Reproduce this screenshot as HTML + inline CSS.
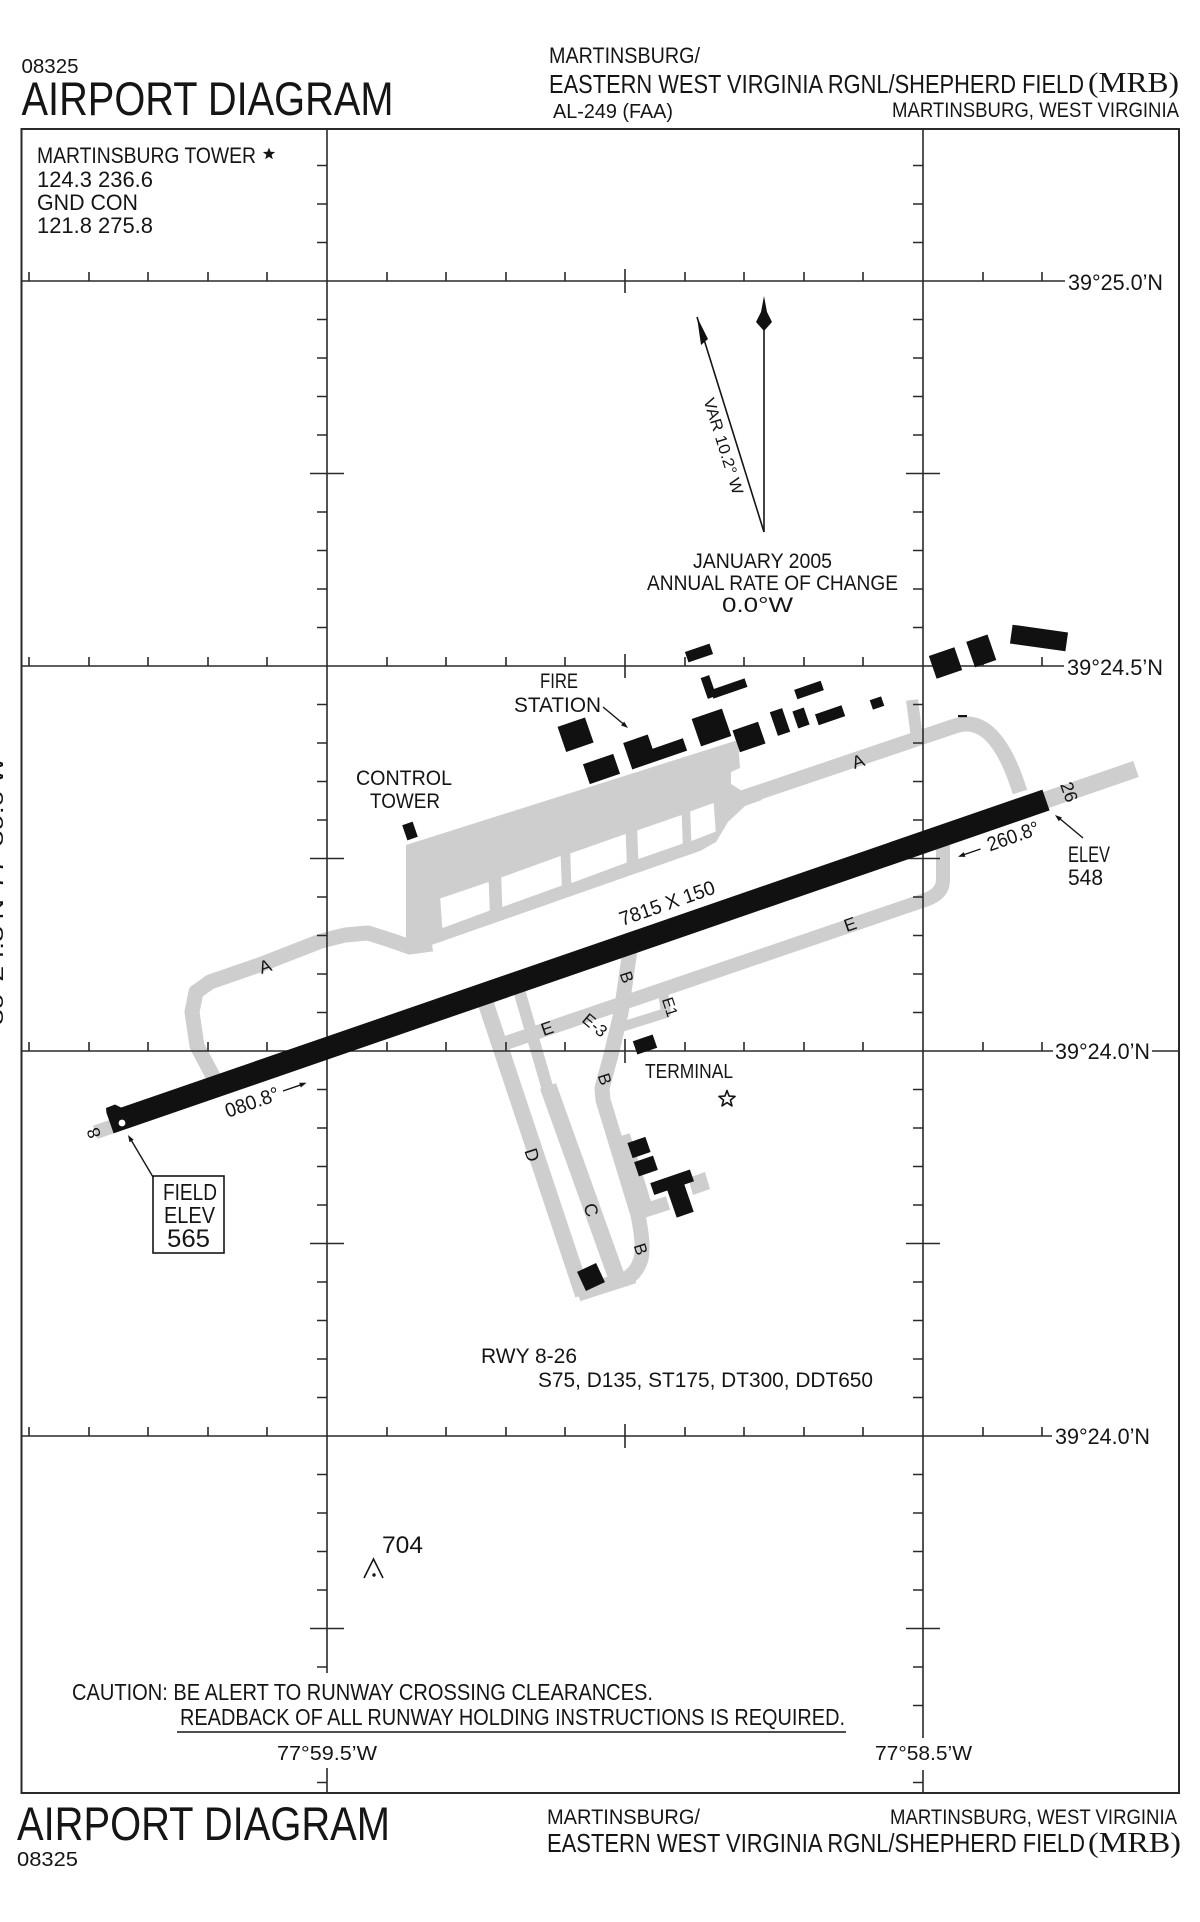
<!DOCTYPE html>
<html>
<head>
<meta charset="utf-8">
<style>
html,body{margin:0;padding:0;background:#fff;}
svg{display:block;}
</style>
</head>
<body>
<svg xmlns="http://www.w3.org/2000/svg" width="1200" height="1922" viewBox="0 0 1200 1922" font-family="'Liberation Sans', Arial, sans-serif" fill="#151515">
<rect x="0" y="0" width="1200" height="1922" fill="#ffffff"/>

<!-- ===== GRAY TAXIWAYS / APRON ===== -->
<g fill="none" stroke="#cecece" stroke-linejoin="round">
  <polyline stroke-width="15" points="215,1080 197,1046 192,1012 196,992 210,982 262,964 321,941 345,935 368,933 390,940 410,947 432,944"/>
  <path stroke-width="15" d="M742 798 L955 726 Q995 712 1020 792"/>
  <polyline stroke-width="12" points="912,700 917,738"/>
  <line x1="1046" y1="800" x2="1136" y2="769" stroke-width="17"/>
  <path stroke-width="14" d="M497 1046 L925 900 Q943 894 943 880 L943 845"/>
  <line x1="484" y1="998" x2="583" y2="1295" stroke-width="16"/>
  <line x1="519" y1="990" x2="548" y2="1090" stroke-width="12"/>
  <line x1="548" y1="1086" x2="619" y2="1284" stroke-width="17"/>
  <line x1="578" y1="1294" x2="634" y2="1276" stroke-width="15"/>
  <path stroke-width="15" d="M630 950 L621 1013 L611 1055 L602 1088 L603 1100 L638 1215 Q645 1250 640 1262 Q635 1274 628 1277"/>
  <line x1="624" y1="1135" x2="648" y2="1212" stroke-width="12"/>
  <line x1="640" y1="1212" x2="668" y2="1203" stroke-width="14"/>
  <polyline stroke-width="10" points="618,1028 666,1013 663,992"/>
</g>
<g fill="#cecece">
  <polygon points="406,845 738,740 740,768 731,772 731,784 742,791 755,790 762,800 745,806 728,822 716,842 700,851 420,949 406,953"/>
  <polygon points="93,1125.7 97.5,1139 113.6,1133.4 109,1120.2"/>
  <polygon points="688,1178 705,1172 710,1189 693,1195"/>
</g>
<g fill="#ffffff" stroke="#ffffff" stroke-width="1.5" stroke-linejoin="round">
  <polygon points="441,899 488,883 489,910 443,927"/>
  <polygon points="502,878 560,857 561,885 503,906"/>
  <polygon points="571,854 625,835 626,862 572,882"/>
  <polygon points="638,831 681,816 682,843 639,858"/>
  <polygon points="691,812 713,804 715,831 692,840"/>
</g>

<!-- ===== GRID ===== -->
<g fill="none" stroke="#2a2a2a">
  <rect x="21.5" y="129" width="1157.5" height="1664" stroke-width="2"/>
  <path stroke-width="1.6" d="M21.5 281H1065M21.5 666H1064M21.5 1051H1053M1152 1051H1179M21.5 1436H1052M327 129V1673M327 1768V1793M923 129V1738M923 1770V1793"/>
  <path stroke-width="1.6" d="M29 281v-9M89 281v-9M148 281v-9M208 281v-9M267 281v-9M387 281v-9M446 281v-9M506 281v-9M565 281v-9M685 281v-9M744 281v-9M804 281v-9M863 281v-9M983 281v-9M1042 281v-9M625 269v24
  M29 666v-9M89 666v-9M148 666v-9M208 666v-9M267 666v-9M387 666v-9M446 666v-9M506 666v-9M565 666v-9M685 666v-9M744 666v-9M804 666v-9M863 666v-9M983 666v-9M1042 666v-9M625 654v24
  M29 1051v-9M89 1051v-9M148 1051v-9M208 1051v-9M267 1051v-9M387 1051v-9M446 1051v-9M506 1051v-9M565 1051v-9M685 1051v-9M744 1051v-9M804 1051v-9M863 1051v-9M983 1051v-9M1042 1051v-9M625 1039v24
  M29 1436v-9M89 1436v-9M148 1436v-9M208 1436v-9M267 1436v-9M387 1436v-9M446 1436v-9M506 1436v-9M565 1436v-9M685 1436v-9M744 1436v-9M804 1436v-9M863 1436v-9M983 1436v-9M1042 1436v-9M625 1424v24"/>
  <path stroke-width="1.6" d="M327 165.5h-10M327 204h-10M327 242.5h-10M327 319.5h-10M327 358h-10M327 396.5h-10M327 435h-10M327 512h-10M327 550.5h-10M327 589h-10M327 627.5h-10M327 704.5h-10M327 743h-10M327 781.5h-10M327 820h-10M327 897h-10M327 935.5h-10M327 974h-10M327 1012.5h-10M327 1089.5h-10M327 1128h-10M327 1166.5h-10M327 1205h-10M327 1282h-10M327 1320.5h-10M327 1359h-10M327 1397.5h-10M327 1474.5h-10M327 1513h-10M327 1551.5h-10M327 1590h-10M327 1667h-10M327 1782.5h-10
  M310 473.5h34M310 858.5h34M310 1243.5h34M310 1628.5h34
  M923 165.5h-10M923 204h-10M923 242.5h-10M923 319.5h-10M923 358h-10M923 396.5h-10M923 435h-10M923 512h-10M923 550.5h-10M923 589h-10M923 627.5h-10M923 704.5h-10M923 743h-10M923 781.5h-10M923 820h-10M923 897h-10M923 935.5h-10M923 974h-10M923 1012.5h-10M923 1089.5h-10M923 1128h-10M923 1166.5h-10M923 1205h-10M923 1282h-10M923 1320.5h-10M923 1359h-10M923 1397.5h-10M923 1474.5h-10M923 1513h-10M923 1551.5h-10M923 1590h-10M923 1667h-10M923 1705.5h-10M923 1782.5h-10
  M906 473.5h34M906 858.5h34M906 1243.5h34M906 1628.5h34"/>
</g>

<!-- ===== RUNWAY ===== -->
<g fill="#111111">
  <polygon points="106.4,1112.6 1042.4,789.6 1049.6,810.4 113.6,1133.4"/>
  <polygon points="106.4,1112.6 106,1108 115,1104.5 128,1111"/>
</g>
<circle cx="122" cy="1123" r="3.4" fill="#ffffff"/>

<!-- ===== BUILDINGS ===== -->
<g fill="#111111">
  <rect x="686" y="647.5" width="26" height="11" transform="rotate(-19 699 653)"/>
  <rect x="704" y="676" width="9" height="22" transform="rotate(-19 708.5 687)"/>
  <rect x="711" y="684" width="36" height="9" transform="rotate(-19 729 688.5)"/>
  <rect x="795" y="685" width="28" height="10" transform="rotate(-19 809 690)"/>
  <rect x="871" y="698" width="12" height="10" transform="rotate(-19 877 703)"/>
  <rect x="561" y="721.5" width="29" height="26.5" transform="rotate(-19 575.5 734.5)"/>
  <g transform="translate(640 752) rotate(-19)"><polygon points="-13,-14 13,-14 13,1 45,1 45,14 -13,14"/></g>
  <rect x="585.5" y="758.5" width="32" height="21" transform="rotate(-19 601.5 769)"/>
  <rect x="695.5" y="713" width="32" height="29" transform="rotate(-19 711.5 727.5)"/>
  <rect x="735.5" y="725.5" width="27" height="23" transform="rotate(-19 749 737)"/>
  <rect x="773.5" y="709.5" width="13" height="25" transform="rotate(-19 780 722)"/>
  <rect x="795" y="709" width="12" height="18" transform="rotate(-19 801 718)"/>
  <rect x="816" y="709.5" width="28" height="11.5" transform="rotate(-19 830 715)"/>
  <rect x="932" y="651" width="27" height="24" transform="rotate(-19 945.5 663)"/>
  <rect x="970" y="637.5" width="22.5" height="27" transform="rotate(-19 981 651)"/>
  <rect x="1011" y="628.5" width="56" height="19" transform="rotate(8 1039 638)"/>
  <rect x="958" y="715" width="9" height="2.2"/>
  <rect x="404.5" y="823" width="11" height="16" transform="rotate(-19 410 831)"/>
  <rect x="634.5" y="1037.5" width="21" height="14" transform="rotate(-19 645 1044.5)"/>
  <rect x="629.5" y="1139.5" width="19" height="16" transform="rotate(-19 639 1147.5)"/>
  <rect x="636" y="1158.5" width="20" height="15" transform="rotate(-19 646 1166)"/>
  <rect x="651" y="1176" width="42" height="12.5" transform="rotate(-19 672 1182)"/>
  <rect x="671.5" y="1186.5" width="18" height="29" transform="rotate(-19 680.5 1201)"/>
  <rect x="580.5" y="1266.5" width="21" height="21" transform="rotate(-25 591 1277)"/>
</g>

<!-- ===== COMPASS ===== -->
<g stroke="#151515" stroke-width="1.6" fill="none">
  <line x1="764" y1="330" x2="764" y2="532"/>
  <line x1="764" y1="532" x2="697" y2="317"/>
</g>
<polygon points="764,296 767,312 772,322 764,331 756,322 761,312" fill="#111"/>
<polygon points="697,317 708,339 701,345" fill="#111"/>
<text transform="translate(724 446) rotate(72.7)" y="6" text-anchor="middle" font-size="16" textLength="100" lengthAdjust="spacingAndGlyphs">VAR 10.2° W</text>
<text x="762.5" y="568" text-anchor="middle" font-size="21" textLength="139" lengthAdjust="spacingAndGlyphs">JANUARY 2005</text>
<text x="772.5" y="590" text-anchor="middle" font-size="21" textLength="251" lengthAdjust="spacingAndGlyphs">ANNUAL RATE OF CHANGE</text>
<text x="757.5" y="612" text-anchor="middle" font-size="21" textLength="71" lengthAdjust="spacingAndGlyphs">0.0°W</text>

<!-- ===== LEADERS / ARROWS ===== -->
<g stroke="#151515" stroke-width="1.4" fill="none">
  <line x1="603" y1="707" x2="624" y2="724.5"/>
  <line x1="1083" y1="838" x2="1059" y2="818"/>
  <line x1="153" y1="1177" x2="130.5" y2="1139"/>
  <line x1="283" y1="1091" x2="301" y2="1084.8"/>
  <line x1="980.5" y1="849" x2="963" y2="855"/>
  <rect x="153" y="1176" width="71" height="77" stroke-width="1.6"/>
  <line x1="177" y1="1732" x2="846" y2="1732" stroke-width="1.6"/>
  <polyline points="364,1578 373.5,1559 383,1578" stroke-width="1.6"/>
</g>
<g fill="#151515">
  <polygon points="628,728 621,725.4 624.2,721.6"/>
  <polygon points="1055,815 1062,817.5 1058.8,821.3"/>
  <polygon points="128,1135 133.7,1139.7 129.5,1142.3"/>
  <polygon points="306.6,1082.8 300.8,1087.5 299.2,1082.7"/>
  <polygon points="958,856.8 965.4,856.9 963.8,852.1"/>
  <circle cx="374" cy="1575" r="1.7"/>
  <polygon points="269,147.5 270.6,151.8 275.2,152 271.6,154.8 272.8,159.3 269,156.7 265.2,159.3 266.4,154.8 262.8,152 267.4,151.8"/>
</g>
<polygon points="727,1090.5 729.1,1096.1 735.1,1096.4 730.4,1100.1 732,1105.9 727,1102.6 722,1105.9 723.6,1100.1 718.9,1096.4 724.9,1096.1" fill="#fff" stroke="#151515" stroke-width="1.6" stroke-linejoin="round"/>

<!-- ===== HEADER ===== -->
<text x="21.5" y="73" font-size="20" textLength="57" lengthAdjust="spacingAndGlyphs">08325</text>
<text x="21.5" y="115" font-size="47" textLength="372" lengthAdjust="spacingAndGlyphs">AIRPORT DIAGRAM</text>
<text x="549" y="63" font-size="22" textLength="151" lengthAdjust="spacingAndGlyphs">MARTINSBURG/</text>
<text x="549" y="93" font-size="26" textLength="535" lengthAdjust="spacingAndGlyphs">EASTERN WEST VIRGINIA RGNL/SHEPHERD FIELD</text>
<text x="1088" y="92" font-size="28" font-family="'Liberation Serif', serif" textLength="91" lengthAdjust="spacingAndGlyphs">(MRB)</text>
<text x="553" y="118" font-size="20" textLength="120" lengthAdjust="spacingAndGlyphs">AL-249 (FAA)</text>
<text x="892" y="117" font-size="21" textLength="287" lengthAdjust="spacingAndGlyphs">MARTINSBURG, WEST VIRGINIA</text>

<text x="37" y="163" font-size="22" textLength="219" lengthAdjust="spacingAndGlyphs">MARTINSBURG TOWER</text>
<text x="37" y="187" font-size="22" textLength="116" lengthAdjust="spacingAndGlyphs">124.3 236.6</text>
<text x="37" y="210" font-size="22" textLength="101" lengthAdjust="spacingAndGlyphs">GND CON</text>
<text x="37" y="233" font-size="22" textLength="116" lengthAdjust="spacingAndGlyphs">121.8 275.8</text>

<!-- grid labels -->
<text x="1068" y="290" font-size="22" textLength="95" lengthAdjust="spacingAndGlyphs">39°25.0’N</text>
<text x="1067" y="675" font-size="22" textLength="96" lengthAdjust="spacingAndGlyphs">39°24.5’N</text>
<text x="1055" y="1059" font-size="22" textLength="95" lengthAdjust="spacingAndGlyphs">39°24.0’N</text>
<text x="1055" y="1444" font-size="22" textLength="95" lengthAdjust="spacingAndGlyphs">39°24.0’N</text>
<text x="277" y="1760" font-size="20" textLength="100" lengthAdjust="spacingAndGlyphs">77°59.5’W</text>
<text x="875" y="1760" font-size="20" textLength="97" lengthAdjust="spacingAndGlyphs">77°58.5’W</text>
<text transform="translate(3 1025) rotate(-90)" font-size="20" textLength="268" lengthAdjust="spacingAndGlyphs">39°24.3’N-77°59.0’W</text>

<!-- feature labels -->
<text x="559" y="688" text-anchor="middle" font-size="21" textLength="38" lengthAdjust="spacingAndGlyphs">FIRE</text>
<text x="557.5" y="712" text-anchor="middle" font-size="21" textLength="87" lengthAdjust="spacingAndGlyphs">STATION</text>
<text x="404" y="785" text-anchor="middle" font-size="21" textLength="96" lengthAdjust="spacingAndGlyphs">CONTROL</text>
<text x="405" y="808" text-anchor="middle" font-size="21" textLength="70" lengthAdjust="spacingAndGlyphs">TOWER</text>
<text transform="translate(667 903) rotate(-19.3)" y="7" text-anchor="middle" font-size="20" textLength="100" lengthAdjust="spacingAndGlyphs">7815 X 150</text>
<text transform="translate(252 1102) rotate(-19.3)" y="7" text-anchor="middle" font-size="20" textLength="56" lengthAdjust="spacingAndGlyphs">080.8°</text>
<text transform="translate(1013 836) rotate(-19.3)" y="7" text-anchor="middle" font-size="20" textLength="54" lengthAdjust="spacingAndGlyphs">260.8°</text>
<text transform="translate(1069 792) rotate(70.9)" y="6" text-anchor="middle" font-size="18">26</text>
<text transform="translate(94 1133) rotate(-109)" y="6" text-anchor="middle" font-size="18">8</text>
<text x="1068" y="862" font-size="22" textLength="42" lengthAdjust="spacingAndGlyphs">ELEV</text>
<text x="1068" y="885" font-size="22" textLength="35" lengthAdjust="spacingAndGlyphs">548</text>
<text x="190" y="1200" text-anchor="middle" font-size="23" textLength="54" lengthAdjust="spacingAndGlyphs">FIELD</text>
<text x="189.5" y="1223" text-anchor="middle" font-size="23" textLength="51" lengthAdjust="spacingAndGlyphs">ELEV</text>
<text x="188.5" y="1247" text-anchor="middle" font-size="25" textLength="43" lengthAdjust="spacingAndGlyphs">565</text>
<text x="645" y="1078" font-size="20" textLength="88" lengthAdjust="spacingAndGlyphs">TERMINAL</text>

<!-- taxiway labels -->
<text transform="translate(265 966) rotate(-19)" y="6.5" text-anchor="middle" font-size="18">A</text>
<text transform="translate(858 761) rotate(-19)" y="6.5" text-anchor="middle" font-size="18">A</text>
<text transform="translate(850 924) rotate(-19)" y="6.5" text-anchor="middle" font-size="18">E</text>
<text transform="translate(547 1028) rotate(-19)" y="6.5" text-anchor="middle" font-size="18">E</text>
<text transform="translate(595 1025) rotate(40)" y="6" text-anchor="middle" font-size="17">E-3</text>
<text transform="translate(670 1007) rotate(72)" y="5.5" text-anchor="middle" font-size="16">E1</text>
<text transform="translate(627 977) rotate(72)" y="6" text-anchor="middle" font-size="17">B</text>
<text transform="translate(605 1079) rotate(72)" y="6" text-anchor="middle" font-size="17">B</text>
<text transform="translate(641 1249) rotate(72)" y="6" text-anchor="middle" font-size="17">B</text>
<text transform="translate(532 1155) rotate(72)" y="6" text-anchor="middle" font-size="18">D</text>
<text transform="translate(591 1210) rotate(72)" y="6" text-anchor="middle" font-size="18">C</text>

<!-- bottom notes -->
<text x="481" y="1363" font-size="21" textLength="96" lengthAdjust="spacingAndGlyphs">RWY 8-26</text>
<text x="538" y="1387" font-size="21" textLength="335" lengthAdjust="spacingAndGlyphs">S75, D135, ST175, DT300, DDT650</text>
<text x="382" y="1553" font-size="24" textLength="41" lengthAdjust="spacingAndGlyphs">704</text>
<text x="72" y="1700" font-size="23" textLength="581" lengthAdjust="spacingAndGlyphs">CAUTION: BE ALERT TO RUNWAY CROSSING CLEARANCES.</text>
<text x="180" y="1725" font-size="23" textLength="665" lengthAdjust="spacingAndGlyphs">READBACK OF ALL RUNWAY HOLDING INSTRUCTIONS IS REQUIRED.</text>

<!-- bottom header -->
<text x="17" y="1840" font-size="47" textLength="373" lengthAdjust="spacingAndGlyphs">AIRPORT DIAGRAM</text>
<text x="17" y="1866" font-size="20" textLength="61" lengthAdjust="spacingAndGlyphs">08325</text>
<text x="547" y="1824" font-size="21" textLength="153" lengthAdjust="spacingAndGlyphs">MARTINSBURG/</text>
<text x="890" y="1824" font-size="21" textLength="287" lengthAdjust="spacingAndGlyphs">MARTINSBURG, WEST VIRGINIA</text>
<text x="547" y="1852" font-size="26" textLength="538" lengthAdjust="spacingAndGlyphs">EASTERN WEST VIRGINIA RGNL/SHEPHERD FIELD</text>
<text x="1088" y="1852" font-size="28" font-family="'Liberation Serif', serif" textLength="93" lengthAdjust="spacingAndGlyphs">(MRB)</text>
</svg>
</body>
</html>
